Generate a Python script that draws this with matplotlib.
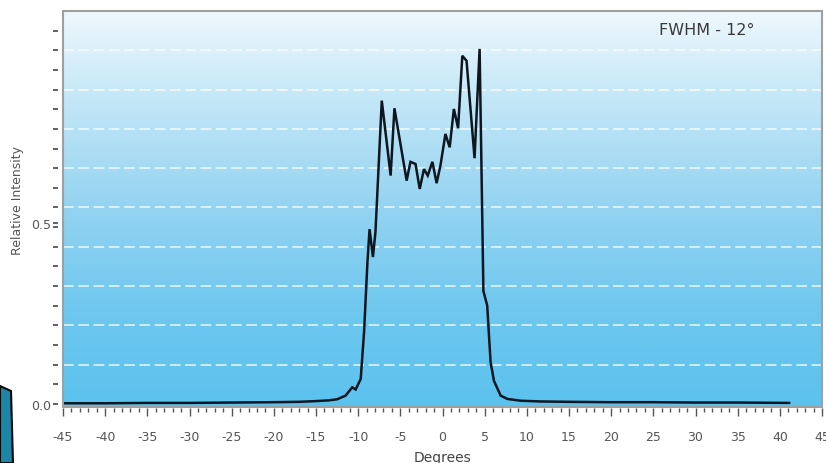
import numpy as np
import matplotlib
matplotlib.use("Agg")
import matplotlib.pyplot as plt
from matplotlib.patches import Rectangle, Polygon
from matplotlib.colors import LinearSegmentedColormap

# ---- data ----
degrees = [-45, -40, -35, -30, -25, -20, -17, -15, -13.5, -12.5, -11.5, -10.7, -10.3,
           -9.7, -9.3, -8.9, -8.65, -8.25, -7.95, -7.2, -6.15, -5.7, -4.25, -3.8,
           -3.2, -2.7, -2.2, -1.75, -1.2, -0.7, -0.25, 0.35, 0.85, 1.35, 1.85,
           2.35, 2.85, 3.8, 4.4, 4.85, 5.3, 5.7, 6.1, 6.9, 7.7, 9.3, 11.6, 15,
           20, 25, 30, 35, 41.1]
intensity = [0.002, 0.002, 0.003, 0.003, 0.004, 0.005, 0.006, 0.008, 0.010, 0.013,
             0.023, 0.046, 0.040, 0.069, 0.199, 0.392, 0.483, 0.406, 0.475, 0.838,
             0.631, 0.817, 0.617, 0.669, 0.663, 0.594, 0.649, 0.631, 0.669, 0.610,
             0.658, 0.746, 0.709, 0.815, 0.762, 0.962, 0.948, 0.679, 0.981, 0.312,
             0.272, 0.116, 0.064, 0.023, 0.014, 0.009, 0.007, 0.006, 0.005, 0.005,
             0.004, 0.004, 0.003]
ytick_values = [0.0, 0.5]
ytick_labels = ["0.0", "0.5"]
xtick_values = list(range(-45, 46, 5))
annotation = "FWHM - 12\u00b0"

W, H = 826, 464
fig = plt.figure(figsize=(W / 100, H / 100), dpi=100)
fig.patch.set_facecolor("white")

left_px, right_px, top_px, bot_px = 63, 822, 12, 408
ax = fig.add_axes([left_px / W, 1 - bot_px / H, (right_px - left_px) / W,
                   (bot_px - top_px) / H])

ymax = 1.0856
ymin = -0.0083
ax.set_xlim(-45, 45)
ax.set_ylim(ymin, ymax)

# gradient background
cmap = LinearSegmentedColormap.from_list(
    "bg", [(0.0, "#5bc2ee"), (0.25, "#6fc8ef"), (0.5, "#93d3f1"),
           (0.78, "#c4e7f7"), (1.0, "#eef8fd")])
grad = np.linspace(0, 1, 256).reshape(-1, 1)
ax.imshow(grad, cmap=cmap, origin="lower", aspect="auto",
          extent=[0, 1, 0, 1], transform=ax.transAxes, zorder=0)

# dashed white grid lines (10 equal bands)
for k in range(1, 10):
    ax.axhline(k * ymax / 10, color="white", lw=1.1, alpha=0.85,
               dashes=(7, 3), zorder=1)

ax.plot(degrees, intensity, color="#0e1620", lw=1.8, zorder=3,
        solid_joinstyle="miter")

# frame
for s in ax.spines.values():
    s.set_visible(False)
ax.add_patch(Rectangle((0, 0), 1, 1, transform=ax.transAxes, fill=False,
                       edgecolor="#a0a0a0", lw=1.5, zorder=4, clip_on=False))
ax.spines["left"].set_position(("outward", 3.6))
ax.spines["bottom"].set_position(("outward", 1.0))

ax.set_yticks(ytick_values)
ax.set_yticklabels(ytick_labels)
ax.set_yticks(np.arange(0, ymax, ymax / 20), minor=True)
ax.set_xticks(xtick_values)
ax.set_xticklabels([str(v) for v in xtick_values])
ax.set_xticks(np.arange(-45, 46, 1), minor=True)

ax.tick_params(axis="y", which="both", direction="out", length=3.6, width=1.3,
               color="#555555", labelsize=9, labelcolor="#555555", pad=1)
ax.tick_params(axis="x", which="major", direction="out", length=5.5, width=1.0,
               color="#555555", labelsize=9, labelcolor="#555555", pad=10)
ax.tick_params(axis="x", which="minor", direction="out", length=3.0, width=1.0,
               color="#555555")

ax.set_xlabel("Degrees", fontsize=10, color="#444444")
ax.xaxis.set_label_coords(0.5, -0.108)
ax.set_ylabel("Relative Intensity", fontsize=9, color="#555555",
              ha="center", va="center")
ax.yaxis.set_label_coords(-0.0593, 0.525)

ax.text(0.848, 0.953, annotation, transform=ax.transAxes, fontsize=11.5,
        color="#3a3a3a", ha="center", va="center", zorder=5)

# dark artifact at bottom-left corner of the image
fig.add_artist(Polygon([(0, 1 - 387 / H), (11 / W, 1 - 392 / H),
                        (13 / W, 0), (0, 0)], closed=True,
                       transform=fig.transFigure, facecolor="#1b86a6",
                       edgecolor="#0a0a0a", lw=1.5))

fig.savefig("out.png", dpi=100, facecolor="white")
